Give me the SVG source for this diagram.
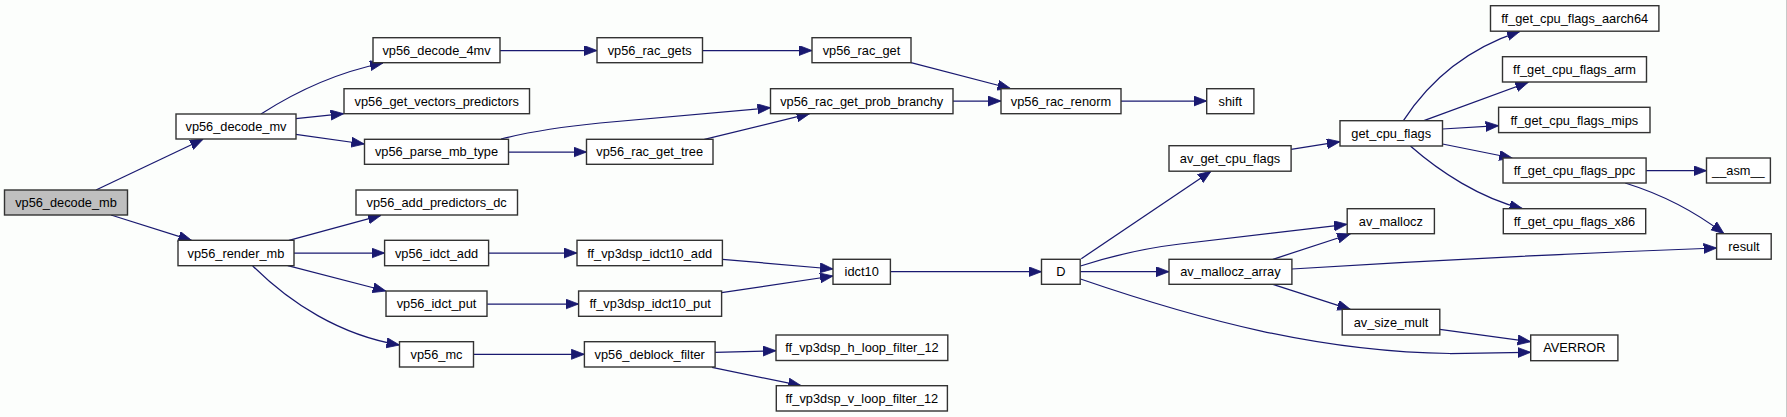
<svg xmlns="http://www.w3.org/2000/svg" width="1787" height="417" viewBox="0 0 1787 417">
<style>
.n rect{fill:#ffffff;stroke:#333333;stroke-width:1.4}
.n.root rect{fill:#bfbfbf}
.n text{font-family:"Liberation Sans",Arial,sans-serif;font-size:12.8px;fill:#000;text-anchor:middle}
.e path{fill:none;stroke:#191970;stroke-width:1.25;marker-end:url(#ah)}
</style>
<defs>
<marker id="ah" markerUnits="userSpaceOnUse" markerWidth="14" markerHeight="11" refX="13" refY="5" orient="auto">
<path d="M0,0 L13,5 L0,10 Z" fill="#191970" stroke="#191970" stroke-width="0.8"/>
</marker>
</defs>
<rect x="0" y="0" width="1787" height="417" fill="#fcfefc"/>
<line x1="1786.5" y1="0" x2="1786.5" y2="417" stroke="#c8c8c8" stroke-width="1"/>
<g id="connectors" class="e">
<path d="M96,190 L203,139.3"/>
<path d="M111,215 L191.5,240.3"/>
<path d="M261,114 Q320,76 383,63"/>
<path d="M295.8,118.7 L343.7,113.7"/>
<path d="M295.8,134.3 L364.3,144"/>
<path d="M500,50.5 L597,50.5"/>
<path d="M702.5,50.5 L812,50.5"/>
<path d="M911,62.7 L1010.5,88.5"/>
<path d="M501,139 Q540,129 600,123 L770.5,107.7"/>
<path d="M508.6,152 L586.5,152"/>
<path d="M704.4,139.3 L809.6,113.7"/>
<path d="M953,101 L1001,101"/>
<path d="M1121,101 L1206.7,101"/>
<path d="M289,240.3 L381,215.3"/>
<path d="M294,253 L384.6,253"/>
<path d="M287.8,265.7 L385.8,291"/>
<path d="M252.6,265.7 C290,303 340,335 399.5,345"/>
<path d="M488.7,253 L577,253"/>
<path d="M487.2,304 L578.6,304"/>
<path d="M473.4,354.3 L584.4,354.3"/>
<path d="M722.4,259.3 L833,269"/>
<path d="M721.6,292.7 L833,276"/>
<path d="M890.4,271.7 L1041.5,271.7"/>
<path d="M715,352.3 L776,350.7"/>
<path d="M712,367.3 L801.2,385.7"/>
<path d="M1081.3,258.7 L1211,171.3"/>
<path d="M1080.5,266 Q1130,250 1180,244 L1347,224.3"/>
<path d="M1080.2,271.7 L1169,271.7"/>
<path d="M1080.5,279 C1200,320 1320,352 1450,353.5 L1530.7,352.3"/>
<path d="M1291.1,149.3 L1339.9,141.7"/>
<path d="M1403.4,120.7 Q1445,56 1520,31.3"/>
<path d="M1423.9,120.7 L1528.4,82.2"/>
<path d="M1442.5,129 L1498.6,125.7"/>
<path d="M1442.5,144 L1512.2,158"/>
<path d="M1410.4,146 C1440,172 1480,198 1522.6,208.7"/>
<path d="M1646.1,170.7 L1706.5,170.7"/>
<path d="M1625.2,183 Q1680,200 1724,233.7"/>
<path d="M1272.9,259.3 L1350.3,234"/>
<path d="M1291.9,269 Q1500,256 1716.6,248"/>
<path d="M1272.9,284.3 L1350.3,309.3"/>
<path d="M1439.8,329.3 L1530.7,341.7"/>
</g>
<g id="vp56_decode_mb" class="n root"><rect x="4.5" y="190" width="123" height="25"/><text x="66" y="207">vp56_decode_mb</text></g>
<g id="vp56_decode_mv" class="n"><rect x="176" y="114" width="120" height="25"/><text x="236" y="131">vp56_decode_mv</text></g>
<g id="vp56_decode_4mv" class="n"><rect x="373" y="37.7" width="127" height="25"/><text x="436.5" y="54.7">vp56_decode_4mv</text></g>
<g id="vp56_get_vectors_predictors" class="n"><rect x="344" y="88.7" width="185.5" height="25"/><text x="436.7" y="105.7">vp56_get_vectors_predictors</text></g>
<g id="vp56_parse_mb_type" class="n"><rect x="364.5" y="139.3" width="144" height="25"/><text x="436.5" y="156.3">vp56_parse_mb_type</text></g>
<g id="vp56_add_predictors_dc" class="n"><rect x="356" y="190" width="161.5" height="25"/><text x="436.7" y="207">vp56_add_predictors_dc</text></g>
<g id="vp56_render_mb" class="n"><rect x="178" y="240.3" width="116" height="25.4"/><text x="236" y="257.5">vp56_render_mb</text></g>
<g id="vp56_idct_add" class="n"><rect x="384.6" y="240.3" width="104" height="25.4"/><text x="436.6" y="257.5">vp56_idct_add</text></g>
<g id="vp56_idct_put" class="n"><rect x="386" y="291" width="101" height="25.3"/><text x="436.5" y="308.2">vp56_idct_put</text></g>
<g id="vp56_mc" class="n"><rect x="399.5" y="341.7" width="74" height="25.3"/><text x="436.5" y="358.9">vp56_mc</text></g>
<g id="vp56_rac_gets" class="n"><rect x="597" y="37.7" width="105.5" height="25"/><text x="649.7" y="54.7">vp56_rac_gets</text></g>
<g id="vp56_rac_get" class="n"><rect x="812" y="37.7" width="99" height="25"/><text x="861.5" y="54.7">vp56_rac_get</text></g>
<g id="vp56_rac_get_prob_branchy" class="n"><rect x="770.5" y="88.7" width="182.5" height="25"/><text x="861.7" y="105.7">vp56_rac_get_prob_branchy</text></g>
<g id="vp56_rac_renorm" class="n"><rect x="1001" y="88.7" width="120" height="25"/><text x="1061" y="105.7">vp56_rac_renorm</text></g>
<g id="vp56_rac_get_tree" class="n"><rect x="586.5" y="139.3" width="126.5" height="25"/><text x="649.7" y="156.3">vp56_rac_get_tree</text></g>
<g id="ff_vp3dsp_idct10_add" class="n"><rect x="577" y="240.3" width="145.4" height="25.4"/><text x="649.7" y="257.5">ff_vp3dsp_idct10_add</text></g>
<g id="ff_vp3dsp_idct10_put" class="n"><rect x="578.6" y="291" width="143" height="25.3"/><text x="650.1" y="308.2">ff_vp3dsp_idct10_put</text></g>
<g id="vp56_deblock_filter" class="n"><rect x="584.4" y="341.7" width="130.7" height="25.3"/><text x="649.7" y="358.9">vp56_deblock_filter</text></g>
<g id="idct10" class="n"><rect x="833" y="259.3" width="57.4" height="25"/><text x="861.7" y="276.3">idct10</text></g>
<g id="D" class="n"><rect x="1041.5" y="259.3" width="38.7" height="25"/><text x="1060.8" y="276.3">D</text></g>
<g id="ff_vp3dsp_h_loop_filter_12" class="n"><rect x="776" y="335" width="171.8" height="25.5"/><text x="861.9" y="352.3">ff_vp3dsp_h_loop_filter_12</text></g>
<g id="ff_vp3dsp_v_loop_filter_12" class="n"><rect x="776.3" y="385.7" width="171.1" height="25.3"/><text x="861.8" y="402.9">ff_vp3dsp_v_loop_filter_12</text></g>
<g id="shift" class="n"><rect x="1206.7" y="88.7" width="47.2" height="25"/><text x="1230.3" y="105.7">shift</text></g>
<g id="get_cpu_flags" class="n"><rect x="1340" y="120.7" width="102.5" height="25.3"/><text x="1391.2" y="137.9">get_cpu_flags</text></g>
<g id="av_get_cpu_flags" class="n"><rect x="1169" y="145.7" width="122.1" height="25.5"/><text x="1230" y="163">av_get_cpu_flags</text></g>
<g id="ff_get_cpu_flags_aarch64" class="n"><rect x="1490.5" y="5.7" width="168.4" height="25.5"/><text x="1574.7" y="23">ff_get_cpu_flags_aarch64</text></g>
<g id="ff_get_cpu_flags_arm" class="n"><rect x="1502.5" y="56.7" width="144" height="25.3"/><text x="1574.5" y="73.9">ff_get_cpu_flags_arm</text></g>
<g id="ff_get_cpu_flags_mips" class="n"><rect x="1498.6" y="107.3" width="151.4" height="25.3"/><text x="1574.3" y="124.5">ff_get_cpu_flags_mips</text></g>
<g id="ff_get_cpu_flags_ppc" class="n"><rect x="1503" y="158" width="143.1" height="25"/><text x="1574.5" y="175">ff_get_cpu_flags_ppc</text></g>
<g id="__asm__" class="n"><rect x="1706.5" y="158" width="63.9" height="25"/><text x="1738.4" y="175">__asm__</text></g>
<g id="av_mallocz" class="n"><rect x="1347.2" y="208.7" width="87.2" height="25"/><text x="1390.8" y="225.7">av_mallocz</text></g>
<g id="ff_get_cpu_flags_x86" class="n"><rect x="1503.3" y="208.7" width="142.4" height="25"/><text x="1574.5" y="225.7">ff_get_cpu_flags_x86</text></g>
<g id="result" class="n"><rect x="1716.6" y="233.7" width="54.6" height="25.5"/><text x="1743.9" y="251">result</text></g>
<g id="av_mallocz_array" class="n"><rect x="1169" y="259.3" width="122.9" height="25"/><text x="1230.4" y="276.3">av_mallocz_array</text></g>
<g id="av_size_mult" class="n"><rect x="1342.2" y="309.3" width="97.6" height="25.7"/><text x="1391" y="326.7">av_size_mult</text></g>
<g id="AVERROR" class="n"><rect x="1530.7" y="335" width="87.2" height="25.7"/><text x="1574.3" y="352.4">AVERROR</text></g>
</svg>
